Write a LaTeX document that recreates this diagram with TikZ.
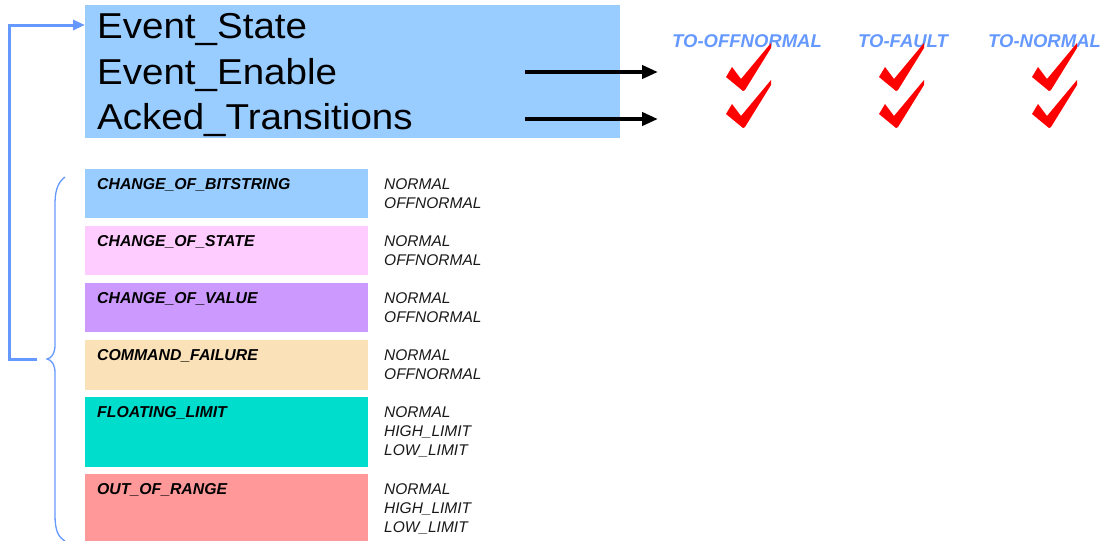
\documentclass[tikz,border=0pt]{standalone}
\usepackage{fontspec}
\setmainfont{Liberation Sans}
\usetikzlibrary{arrows.meta}

\definecolor{panelblue}{HTML}{99CCFF}
\definecolor{linkblue}{HTML}{6699FF}
\definecolor{tickred}{HTML}{FF0000}
\definecolor{catblue}{HTML}{99CCFF}
\definecolor{catpink}{HTML}{FFCCFF}
\definecolor{catpurple}{HTML}{CC99FF}
\definecolor{catpeach}{HTML}{FBE1B8}
\definecolor{catteal}{HTML}{00DDCC}
\definecolor{catsalmon}{HTML}{FF9999}

\tikzset{
  bigtext/.style={inner sep=0pt, font=\fontsize{36}{45}\selectfont, text=black},
  hdr/.style={inner sep=0pt, font=\fontsize{18.5}{22}\selectfont\bfseries\itshape, text=linkblue},
  catbox/.style={inner sep=0pt, minimum width=283pt, anchor=north west},
  catlabel/.style={inner sep=0pt, anchor=base west, font=\fontsize{15.8}{19}\selectfont\bfseries\itshape, text=black},
  % multi-line node: its base anchor sits on the last line
  states/.style={inner sep=0pt, anchor=base west, align=left, font=\fontsize{15.5}{19}\selectfont\itshape, text=black!90},
  fatarrow/.style={line width=4pt, -{Triangle[length=16pt,width=13pt]}},
  link/.style={draw=linkblue, line width=3pt, -{Triangle[length=12pt,width=10pt]}},
  bracket/.style={draw=linkblue, line width=1.3pt},
  tick/.pic={
    \fill[tickred] (-17,-14) -- (-11,-24) -- (-2,-12) -- (28,-48) -- (28,-43) -- (2,-1) -- (0,0) -- cycle;
  }
}

\begin{document}
\begin{tikzpicture}[x=1pt, y=-1pt]
\useasboundingbox (0,0) rectangle (1104,541);

% property panel
\node[fill=panelblue, inner sep=0pt, minimum width=535pt, minimum height=133pt, anchor=north west] (topbox) at (85,5) {};
\node[bigtext, anchor=base west] (es) at (97,38.5) {\scalebox{1.07}[1]{Event\_State}};
\node[bigtext, anchor=base west] (ee) at (97,84) {\scalebox{1.07}[1]{Event\_Enable}};
\node[bigtext, anchor=base west] (at) at (97,129.5) {\scalebox{1.07}[1]{Acked\_Transitions}};

% arrows into the transition table
\coordinate (a1s) at (525,72);
\coordinate (a1e) at (658,72);
\coordinate (a2s) at (525,119);
\coordinate (a2e) at (658,119);
\draw[fatarrow] (a1s) -- (a1e);
\draw[fatarrow] (a2s) -- (a2e);

% column headers
\node[hdr, anchor=base west] (hoff) at (672,47) {TO-OFFNORMAL};
\node[hdr, anchor=base west] (hfault) at (858,47) {TO-FAULT};
\node[hdr, anchor=base west] (hnorm) at (988,47) {TO-NORMAL};

% check marks
\foreach \cx in {743,896,1049}{
  \pic at (\cx,91) {tick};
  \pic at (\cx,128) {tick};
}

% event types (state lists are placed by the baseline of their last line)
\node[catbox, fill=catblue, minimum height=49pt] (c1) at (85,169) {};
\node[catlabel] (c1l) at (97,189) {CHANGE\_OF\_BITSTRING};
\node[states] (c1s) at (384,208) {NORMAL\\OFFNORMAL};

\node[catbox, fill=catpink, minimum height=49pt] (c2) at (85,226) {};
\node[catlabel] (c2l) at (97,246) {CHANGE\_OF\_STATE};
\node[states] (c2s) at (384,265) {NORMAL\\OFFNORMAL};

\node[catbox, fill=catpurple, minimum height=49pt] (c3) at (85,283) {};
\node[catlabel] (c3l) at (97,303) {CHANGE\_OF\_VALUE};
\node[states] (c3s) at (384,322) {NORMAL\\OFFNORMAL};

\node[catbox, fill=catpeach, minimum height=50pt] (c4) at (85,340) {};
\node[catlabel] (c4l) at (97,360) {COMMAND\_FAILURE};
\node[states] (c4s) at (384,379) {NORMAL\\OFFNORMAL};

\node[catbox, fill=catteal, minimum height=70pt] (c5) at (85,397) {};
\node[catlabel] (c5l) at (97,417) {FLOATING\_LIMIT};
\node[states] (c5s) at (384,455) {NORMAL\\HIGH\_LIMIT\\LOW\_LIMIT};

\node[catbox, fill=catsalmon, minimum height=67pt] (c6) at (85,474) {};
\node[catlabel] (c6l) at (97,494) {OUT\_OF\_RANGE};
\node[states] (c6s) at (384,532) {NORMAL\\HIGH\_LIMIT\\LOW\_LIMIT};

% curly brace grouping the event types
\draw[bracket] (65,177) .. controls (57,183) and (55,192) .. (55,205)
  -- (55,345) .. controls (55,353) and (52,358) .. (47,359)
  .. controls (52,360) and (55,365) .. (55,373)
  -- (55,515) .. controls (55,530) and (58,537) .. (65,541);

% link from the brace back to Event_State
\coordinate (loopend) at (37,359);
\coordinate (esin) at (85,25);
\draw[link] (loopend) -- ++(-28,0) |- (esin);
\end{tikzpicture}
\end{document}
